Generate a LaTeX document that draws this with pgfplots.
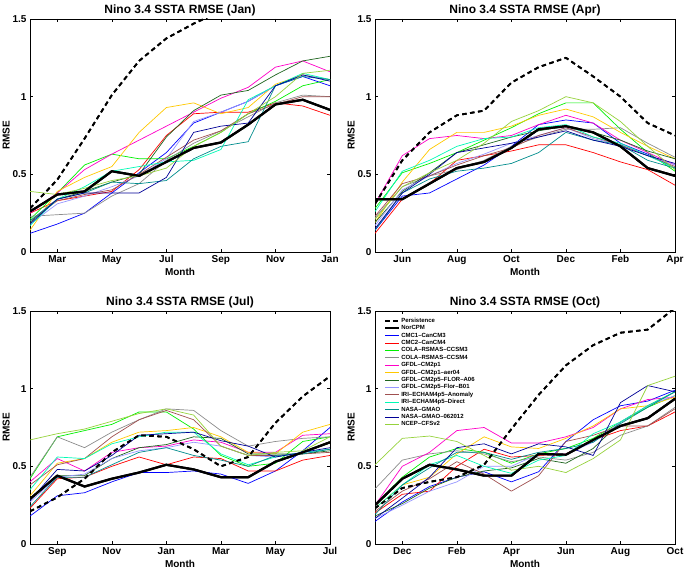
\documentclass[border=0pt]{standalone}
\usepackage{pgfplots}
\pgfplotsset{compat=1.18}
\usepackage{pgfplotstable}
\usepackage{fontspec}
\setmainfont{Liberation Sans}

\definecolor{cA}{RGB}{0,0,255}
\definecolor{cB}{RGB}{255,0,0}
\definecolor{cC}{RGB}{0,240,0}
\definecolor{cD}{RGB}{140,140,140}
\definecolor{cE}{RGB}{255,0,200}
\definecolor{cF}{RGB}{255,200,0}
\definecolor{cG}{RGB}{30,100,30}
\definecolor{cH}{RGB}{150,150,255}
\definecolor{cI}{RGB}{160,80,80}
\definecolor{cJ}{RGB}{0,250,180}
\definecolor{cK}{RGB}{0,140,140}
\definecolor{cL}{RGB}{0,0,150}
\definecolor{cM}{RGB}{150,210,60}

\pgfplotstableread{
x pers nor cmc1 cmc2 ccsm3 ccsm4 cm2p1 aer04 a06 b01 iria irid gmao navy cfs
1 0.28 0.26 0.12 0.25 0.21 0.23 0.25 0.14 0.19 0.18 0.20 0.17 0.20 0.18 0.39
2 0.465 0.37 0.18 0.33 0.38 0.24 0.38 0.39 0.34 0.31 0.33 0.34 0.34 0.34 0.37
3 0.73 0.39 0.25 0.36 0.56 0.25 0.53 0.48 0.39 0.36 0.37 0.42 0.38 0.38 0.41
4 1.01 0.52 0.38 0.39 0.63 0.36 0.63 0.55 0.45 0.42 0.40 0.52 0.45 0.38 0.46
5 1.23 0.49 0.51 0.53 0.60 0.44 0.72 0.77 0.50 0.49 0.50 0.55 0.44 0.38 0.49
6 1.375 0.58 0.64 0.75 0.60 0.59 0.81 0.93 0.74 0.60 0.61 0.58 0.46 0.48 0.54
7 1.47 0.67 0.83 0.89 0.68 0.70 0.90 0.96 0.91 0.84 0.72 0.59 0.60 0.77 0.68
8 1.55 0.705 0.90 0.90 0.77 0.78 0.99 0.89 1.01 0.90 0.78 0.66 0.68 0.81 0.77
9 1.60 0.82 0.97 0.90 0.89 0.87 1.06 0.93 1.04 0.97 0.89 0.98 0.71 0.83 0.89
10 1.65 0.95 1.07 0.96 0.97 0.96 1.19 1.08 1.14 1.07 0.95 1.07 1.07 1.07 1.00
11 1.70 0.98 1.13 0.94 1.07 1.01 1.23 1.14 1.23 1.14 1.00 1.15 1.13 1.14 1.15
12 1.72 0.915 1.07 0.88 1.11 1.00 1.16 1.11 1.26 1.11 1.00 1.11 1.11 1.10 1.17
}\tjan

\pgfplotstableread{
x pers nor cmc1 cmc2 ccsm3 ccsm4 cm2p1 aer04 a06 b01 iria irid gmao navy cfs
1 0.31 0.34 0.14 0.12 0.28 0.22 0.31 0.19 0.19 0.17 0.23 0.26 0.14 0.15 0.21
2 0.59 0.34 0.36 0.34 0.51 0.42 0.62 0.45 0.39 0.40 0.44 0.52 0.38 0.38 0.42
3 0.77 0.44 0.38 0.44 0.57 0.49 0.73 0.66 0.51 0.49 0.49 0.59 0.47 0.50 0.51
4 0.88 0.54 0.47 0.59 0.64 0.53 0.75 0.77 0.64 0.57 0.56 0.68 0.52 0.64 0.59
5 0.91 0.58 0.56 0.62 0.72 0.59 0.73 0.77 0.69 0.63 0.62 0.73 0.54 0.67 0.70
6 1.09 0.67 0.68 0.65 0.80 0.68 0.75 0.81 0.74 0.70 0.67 0.74 0.57 0.70 0.84
7 1.19 0.79 0.82 0.69 0.89 0.74 0.82 0.88 0.78 0.75 0.75 0.80 0.64 0.74 0.91
8 1.25 0.81 0.85 0.69 0.96 0.79 0.88 0.92 0.81 0.80 0.80 0.82 0.77 0.78 1.00
9 1.13 0.77 0.83 0.64 0.96 0.79 0.83 0.87 0.77 0.73 0.74 0.74 0.72 0.72 0.96
10 1.00 0.68 0.70 0.58 0.79 0.80 0.72 0.77 0.72 0.69 0.69 0.70 0.69 0.68 0.84
11 0.83 0.54 0.63 0.53 0.64 0.70 0.64 0.68 0.65 0.62 0.62 0.62 0.59 0.62 0.68
12 0.75 0.49 0.54 0.43 0.52 0.61 0.56 0.60 0.60 0.56 0.55 0.54 0.54 0.57 0.53
}\tapr

\pgfplotstableread{
x pers nor cmc1 cmc2 ccsm3 ccsm4 cm2p1 aer04 a06 b01 iria irid gmao navy cfs
1 0.21 0.29 0.18 0.23 0.42 0.43 0.40 0.31 0.29 0.27 0.38 0.35 0.24 0.28 0.67
2 0.30 0.44 0.31 0.42 0.69 0.69 0.55 0.52 0.44 0.43 0.51 0.56 0.43 0.48 0.71
3 0.42 0.37 0.33 0.43 0.73 0.62 0.47 0.55 0.44 0.45 0.55 0.55 0.43 0.47 0.74
4 0.59 0.42 0.40 0.50 0.77 0.72 0.59 0.655 0.55 0.55 0.69 0.645 0.51 0.57 0.79
5 0.70 0.46 0.46 0.56 0.85 0.80 0.62 0.72 0.62 0.60 0.80 0.69 0.59 0.70 0.84
6 0.69 0.51 0.46 0.51 0.85 0.87 0.63 0.73 0.64 0.62 0.86 0.72 0.62 0.71 0.87
7 0.61 0.48 0.47 0.56 0.74 0.86 0.67 0.75 0.69 0.655 0.80 0.72 0.57 0.72 0.83
8 0.50 0.43 0.45 0.55 0.57 0.73 0.655 0.69 0.68 0.63 0.63 0.58 0.54 0.665 0.63
9 0.56 0.43 0.39 0.47 0.50 0.63 0.59 0.59 0.58 0.57 0.57 0.51 0.50 0.63 0.57
10 0.78 0.53 0.47 0.47 0.52 0.66 0.59 0.58 0.58 0.56 0.57 0.56 0.57 0.56 0.59
11 0.95 0.59 0.60 0.54 0.66 0.68 0.70 0.72 0.58 0.59 0.58 0.59 0.58 0.59 0.60
12 1.08 0.655 0.75 0.57 0.69 0.69 0.71 0.77 0.60 0.61 0.59 0.61 0.61 0.62 0.69
}\tjul

\pgfplotstableread{
x pers nor cmc1 cmc2 ccsm3 ccsm4 cm2p1 aer04 a06 b01 iria irid gmao navy cfs
1 0.23 0.25 0.145 0.20 0.25 0.355 0.25 0.23 0.18 0.165 0.21 0.23 0.19 0.165 0.51
2 0.36 0.42 0.27 0.32 0.43 0.54 0.50 0.38 0.26 0.25 0.34 0.38 0.38 0.295 0.68
3 0.40 0.51 0.37 0.34 0.56 0.58 0.59 0.43 0.36 0.34 0.42 0.51 0.49 0.43 0.695
4 0.43 0.48 0.43 0.50 0.615 0.60 0.73 0.58 0.43 0.40 0.53 0.57 0.59 0.62 0.66
5 0.51 0.44 0.465 0.61 0.59 0.58 0.75 0.69 0.47 0.50 0.45 0.50 0.59 0.645 0.57
6 0.74 0.44 0.40 0.56 0.52 0.53 0.65 0.625 0.49 0.50 0.34 0.455 0.545 0.58 0.475
7 0.96 0.58 0.465 0.57 0.58 0.56 0.65 0.615 0.55 0.58 0.44 0.54 0.59 0.645 0.50
8 1.15 0.575 0.66 0.58 0.615 0.54 0.69 0.68 0.52 0.58 0.66 0.57 0.615 0.625 0.46
9 1.28 0.67 0.80 0.67 0.68 0.59 0.75 0.76 0.615 0.655 0.70 0.71 0.655 0.57 0.55
10 1.36 0.76 0.89 0.73 0.785 0.70 0.87 0.87 0.785 0.785 0.76 0.785 0.775 0.91 0.67
11 1.38 0.81 0.92 0.76 0.88 0.76 0.93 0.89 0.89 0.89 0.76 0.89 0.88 1.02 1.02
12 1.52 0.935 0.99 0.85 0.955 0.88 0.945 0.945 0.98 0.955 0.87 0.98 0.98 0.98 1.08
}\toct

\pgfplotsset{
  panel/.style={
    scale only axis, width=300pt, height=233pt,
    xmin=1, xmax=12, ymin=0, ymax=1.5,
    xtick={2,4,6,8,10,12},
    ytick={0,0.5,1,1.5},
    /pgf/number format/assume math mode=true,
    tick label style={font=\bfseries\fontsize{10}{12}\selectfont},
    label style={font=\bfseries\fontsize{10}{12}\selectfont},
    title style={font=\bfseries\fontsize{12}{14}\selectfont, yshift=-7pt},
    xlabel=Month, ylabel=RMSE,
    xlabel style={yshift=3pt},
    ylabel style={yshift=-4pt},
    major tick length=3pt,
    tick style={black, line width=0.4pt},
    axis line style={line width=0.5pt},
    every axis plot/.append style={line join=round},
  },
  thin/.style={line width=0.7pt},
  sPers/.style={black, line width=1.8pt, dash pattern=on 4.5pt off 3.5pt},
  sNor/.style={black, line width=2.2pt},
}

\newcommand\plotall[1]{%
  \addplot[sPers] table[y=pers]{#1};
  \addplot[sNor] table[y=nor]{#1};
  \addplot[thin, cA] table[y=cmc1]{#1};
  \addplot[thin, cB] table[y=cmc2]{#1};
  \addplot[thin, cC] table[y=ccsm3]{#1};
  \addplot[thin, cD] table[y=ccsm4]{#1};
  \addplot[thin, cE] table[y=cm2p1]{#1};
  \addplot[thin, cF] table[y=aer04]{#1};
  \addplot[thin, cG] table[y=a06]{#1};
  \addplot[thin, cH] table[y=b01]{#1};
  \addplot[thin, cI] table[y=iria]{#1};
  \addplot[thin, cJ] table[y=irid]{#1};
  \addplot[thin, cK] table[y=gmao]{#1};
  \addplot[thin, cL] table[y=navy]{#1};
  \addplot[thin, cM] table[y=cfs]{#1};
  \addplot[sNor, forget plot] table[y=nor]{#1};
  \addplot[sPers, forget plot] table[y=pers]{#1};
}

\begin{document}
\begin{tikzpicture}
\useasboundingbox (0,0) rectangle (685pt,569pt);
\begin{axis}[panel, at={(30pt,317pt)}, anchor=south west,
  title={Nino 3.4 SSTA RMSE (Jan)},
  xticklabels={Mar,May,Jul,Sep,Nov,Jan}]
\plotall{\tjan}
\end{axis}
\begin{axis}[panel, at={(375pt,317pt)}, anchor=south west,
  title={Nino 3.4 SSTA RMSE (Apr)},
  xticklabels={Jun,Aug,Oct,Dec,Feb,Apr}]
\plotall{\tapr}
\end{axis}
\begin{axis}[panel, at={(30pt,25pt)}, anchor=south west,
  title={Nino 3.4 SSTA RMSE (Jul)},
  xticklabels={Sep,Nov,Jan,Mar,May,Jul}]
\plotall{\tjul}
\end{axis}
\begin{axis}[panel, at={(375pt,25pt)}, anchor=south west,
  title={Nino 3.4 SSTA RMSE (Oct)},
  xticklabels={Dec,Feb,Apr,Jun,Aug,Oct},
  legend cell align=left,
  legend style={at={(0.03,0.975)}, anchor=north west, draw=none, fill=none,
    inner sep=0pt, row sep=0pt,
    font=\bfseries\fontsize{6}{7}\selectfont,
    nodes={inner sep=0.9pt, text height=4.4pt, text depth=1.2pt}},
  legend image code/.code={\draw[#1] (0pt,0pt) -- (14pt,0pt);}]
\plotall{\toct}
\legend{Persistence,NorCPM,CMC1--CanCM3,CMC2--CanCM4,COLA--RSMAS--CCSM3,COLA--RSMAS--CCSM4,GFDL--CM2p1,GFDL--CM2p1--aer04,GFDL--CM2p5--FLOR--A06,GFDL--CM2p5--Flor--B01,IRI--ECHAM4p5--Anomaly,IRI--ECHAM4p5--Direct,NASA--GMAO,NASA--GMAO--062012,NCEP--CFSv2}
\end{axis}
\end{tikzpicture}
\end{document}
